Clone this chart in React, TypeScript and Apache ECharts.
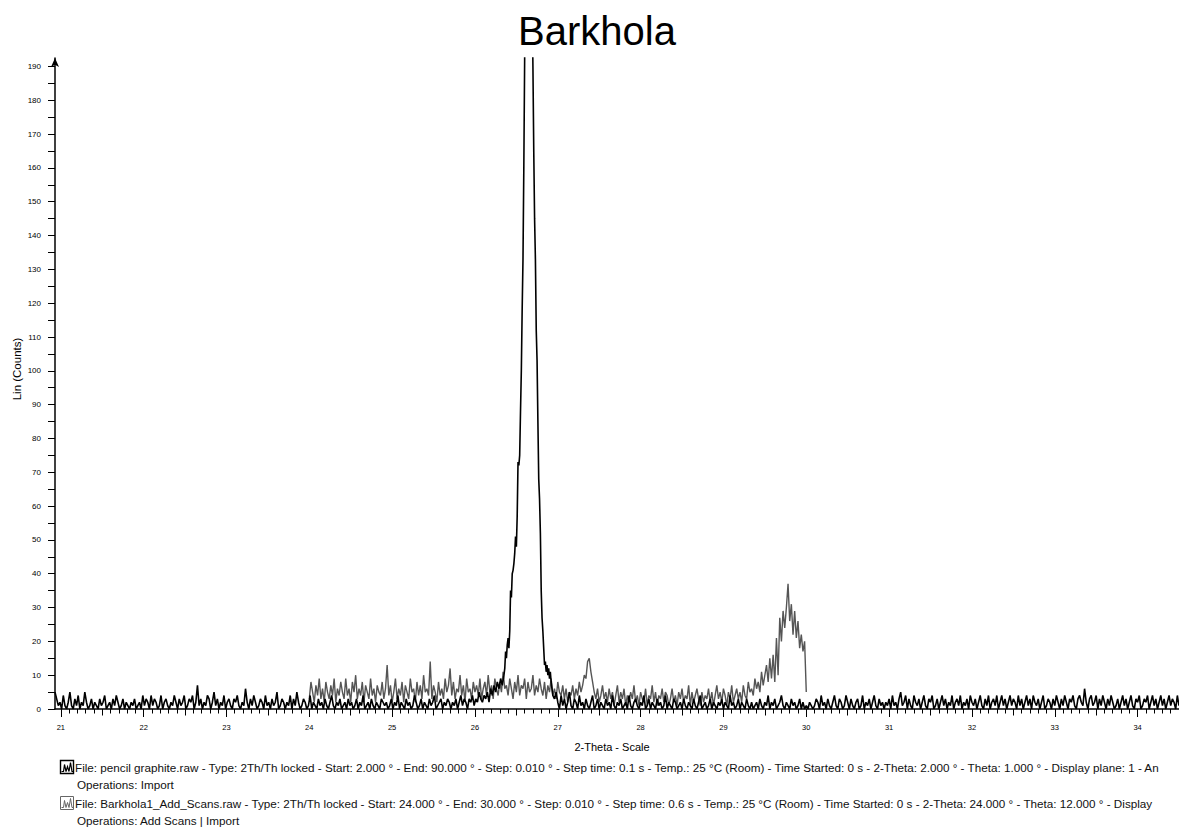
import React, { useEffect, useRef } from "react";
import * as echarts from "echarts";

const TITLE = "Barkhola";
const X_NAME = "2-Theta - Scale";
const Y_NAME = "Lin (Counts)";
const X_MIN = 20.93;
const X_MAX = 34.5;
const Y_MIN = 0;
const Y_MAX = 192.5;

const xLabelValues = [21, 22, 23, 24, 25, 26, 27, 28, 29, 30, 31, 32, 33, 34];
const xHalfTickValues = [21.5, 22.5, 23.5, 24.5, 25.5, 26.5, 27.5, 28.5, 29.5, 30.5, 31.5, 32.5, 33.5, 34.5];
const yLabelValues = [0, 10, 20, 30, 40, 50, 60, 70, 80, 90, 100, 110, 120, 130, 140, 150, 160, 170, 180, 190];
const yTickValues = [0, 5, 10, 15, 20, 25, 30, 35, 40, 45, 50, 55, 60, 65, 70, 75, 80, 85, 90, 95, 100, 105, 110, 115, 120, 125, 130, 135, 140, 145, 150, 155, 160, 165, 170, 175, 180, 185, 190];

// pencil graphite.raw
const graphiteLowStart = 20.93;
const graphiteLowStep = 0.02;
const graphiteLow = [
  5, 3, 1, 2, 0, 4, 1, 0, 2, 5, 1, 0, 3, 1, 4, 0, 2, 1, 5, 2,
  0, 1, 3, 0, 2, 1, 0, 3, 1, 2, 4, 0, 1, 2, 0, 3, 1, 4, 2, 0,
  1, 3, 0, 2, 1, 0, 2, 1, 3, 0, 1, 2, 0, 4, 1, 3, 2, 0, 4, 1,
  3, 2, 0, 1, 4, 0, 2, 3, 1, 0, 2, 1, 4, 2, 0, 3, 1, 2, 4, 0,
  1, 3, 2, 4, 0, 2, 7, 1, 3, 0, 2, 1, 4, 3, 0, 2, 5, 1, 3, 0,
  2, 1, 4, 0, 2, 3, 1, 0, 3, 2, 4, 1, 0, 2, 1, 6, 2, 0, 3, 1,
  4, 2, 0, 1, 3, 2, 0, 4, 1, 2, 0, 3, 1, 2, 5, 0, 1, 3, 2, 0,
  2, 1, 4, 0, 3, 1, 5, 2, 0, 1, 3, 2, 0, 1, 4, 0, 2, 1, 0, 3,
  1, 2, 0, 3, 1, 0, 2, 4, 1, 0, 2, 1, 3, 0, 1, 2, 0, 3, 1, 2,
  0, 1, 3, 0, 2, 1, 4, 0, 1, 2, 0, 3, 1, 0, 2, 1, 0, 3, 2, 1,
  2, 0, 1, 3, 0, 2, 1, 4, 0, 2, 1, 0, 3, 1, 2, 0, 1, 4, 2, 0,
  1, 3, 0, 2, 1, 0, 3, 1, 2, 4, 0, 1, 2, 3, 0, 2, 1, 3, 2, 0,
  2, 1, 3, 0, 2, 4, 1, 3, 2, 0, 3, 2, 4, 1, 3, 2, 5, 3, 2, 4,
  3, 5, 2, 6, 4, 7, 5, 8, 6, 9, 7, 10,
];
const graphitePeakStart = 26.36;
const graphitePeakStep = 0.01;
const graphitePeak = [
  12, 17, 15, 19, 21, 18, 23, 35, 33, 40, 41, 43, 46, 51, 48, 57, 73, 72, 75, 88,
  100, 118, 133, 160, 192, 240, 300, 350, 380, 370, 330, 280, 240, 210, 190, 165, 145, 133, 112, 103,
  85, 68, 62, 52, 35, 27, 23, 18, 13, 14, 11, 13, 10, 12, 9, 11, 8, 6, 4,
];
const graphiteHighStart = 26.96;
const graphiteHighStep = 0.02;
const graphiteHigh = [
  3, 5, 2, 0, 4, 1, 3, 0, 2, 5, 1, 0, 3, 2, 0, 4, 1, 2, 0, 3,
  1, 0, 2, 4, 0, 1, 3, 0, 2, 1, 0, 3, 1, 2, 0, 4, 1, 0, 2, 1,
  3, 0, 1, 2, 0, 4, 1, 0, 2, 3, 1, 0, 2, 1, 4, 0, 1, 3, 0, 2,
  1, 0, 3, 1, 2, 0, 1, 4, 0, 2, 1, 0, 3, 2, 0, 1, 2, 0, 3, 1,
  0, 2, 1, 0, 3, 1, 0, 2, 4, 0, 1, 2, 0, 1, 3, 0, 2, 1, 0, 2,
  1, 3, 0, 2, 1, 0, 4, 1, 2, 0, 1, 3, 0, 2, 1, 0, 3, 1, 0, 2,
  0, 1, 2, 0, 3, 1, 0, 2, 1, 4, 0, 2, 1, 3, 0, 1, 2, 4, 1, 0,
  2, 1, 0, 3, 1, 2, 0, 1, 3, 0, 2, 0, 1, 0, 2, 1, 0, 1, 3, 2,
  0, 4, 1, 2, 0, 3, 1, 0, 2, 4, 1, 0, 3, 2, 0, 1, 4, 2, 0, 3,
  1, 0, 2, 3, 0, 1, 4, 0, 2, 1, 3, 0, 2, 4, 1, 0, 3, 1, 2, 0,
  2, 1, 3, 0, 4, 1, 2, 0, 3, 5, 1, 2, 4, 0, 3, 1, 0, 4, 2, 1,
  3, 0, 2, 4, 1, 0, 3, 2, 4, 0, 1, 3, 0, 2, 4, 1, 3, 0, 2, 1,
  4, 0, 2, 3, 1, 4, 0, 2, 1, 3, 0, 4, 2, 1, 3, 0, 2, 4, 1, 0,
  3, 1, 4, 0, 2, 3, 1, 4, 0, 2, 4, 1, 3, 0, 2, 4, 1, 3, 2, 0,
  4, 1, 3, 0, 2, 4, 1, 3, 0, 4, 2, 1, 3, 0, 2, 4, 0, 1, 3, 2,
  0, 3, 1, 4, 2, 0, 3, 1, 4, 2, 0, 3, 2, 4, 1, 0, 3, 4, 2, 1,
  6, 2, 0, 3, 4, 1, 2, 4, 0, 3, 1, 4, 2, 0, 3, 1, 4, 2, 0, 1,
  3, 0, 2, 4, 1, 3, 0, 2, 4, 1, 0, 3, 2, 4, 0, 1, 3, 2, 4, 0,
  2, 4, 1, 3, 0, 2, 4, 1, 3, 0, 2, 4, 1, 3, 2, 0, 4, 1, 3, 2,
];

// Barkhola1_Add_Scans.raw
const barkholaStart = 24.0;
const barkholaStep = 0.02;
const barkhola = [
  3, 8, 5, 2, 7, 4, 9, 3, 6, 2, 8, 5, 3, 7, 4, 9, 2, 6, 4, 8,
  5, 3, 9, 4, 6, 2, 8, 5, 10, 3, 6, 4, 8, 2, 7, 5, 3, 9, 4, 6,
  2, 7, 5, 4, 8, 3, 6, 13, 4, 7, 2, 5, 9, 3, 6, 4, 8, 2, 7, 5,
  3, 9, 5, 6, 2, 8, 4, 7, 3, 10, 5, 6, 4, 14, 3, 7, 5, 2, 8, 4,
  6, 3, 9, 5, 7, 12, 4, 8, 3, 6, 5, 10, 4, 7, 2, 9, 5, 6, 3, 8,
  5, 7, 4, 9, 3, 6, 8, 4, 10, 5, 7, 3, 9, 6, 4, 8, 5, 11, 6, 7,
  4, 9, 6, 3, 8, 5, 10, 4, 7, 6, 9, 3, 8, 5, 6, 10, 4, 7, 5, 9,
  6, 4, 8, 3, 7, 5, 9, 4, 6, 3, 8, 5, 4, 7, 3, 6, 2, 5, 4, 7,
  3, 6, 4, 8, 5, 7, 10, 9, 14, 15, 11, 8, 5, 3, 6, 2, 4, 7, 3, 5,
  2, 6, 3, 5, 1, 4, 7, 2, 5, 3, 6, 1, 4, 2, 5, 3, 7, 2, 4, 1,
  5, 3, 2, 6, 1, 4, 3, 7, 2, 5, 1, 4, 3, 6, 2, 5, 4, 1, 3, 6,
  2, 4, 1, 5, 3, 6, 2, 4, 3, 7, 1, 5, 2, 4, 6, 3, 1, 5, 2, 4,
  3, 6, 2, 5, 1, 4, 7, 3, 5, 2, 6, 4, 1, 5, 3, 7, 2, 4, 6, 3,
  5, 2, 7, 4, 3, 8, 5, 6, 4, 9, 6, 8, 5, 11, 7, 10, 13, 8, 15, 9,
  16, 8, 21, 10, 27, 20, 29, 24, 30, 37, 26, 31, 22, 29, 21, 26, 18, 22, 17, 20,
  5,
];

const legendLines = [
  "File: pencil graphite.raw - Type: 2Th/Th locked - Start: 2.000 ° - End: 90.000 ° - Step: 0.010 ° - Step time: 0.1 s - Temp.: 25 °C (Room) - Time Started: 0 s - 2-Theta: 2.000 ° - Theta: 1.000 ° - Display plane: 1 - An",
  "Operations: Import",
  "File: Barkhola1_Add_Scans.raw - Type: 2Th/Th locked - Start: 24.000 ° - End: 30.000 ° - Step: 0.010 ° - Step time: 0.6 s - Temp.: 25 °C (Room) - Time Started: 0 s - 2-Theta: 24.000 ° - Theta: 12.000 ° - Display",
  "Operations: Add Scans | Import",
];

const toPairs = (start: number, step: number, values: number[]) =>
  values.map((v, i) => [Number((start + i * step).toFixed(2)), v]);

const FONT = "'Liberation Sans', Arial, sans-serif";
const LEGEND_FONT_SIZE = 11.7;

export default function App() {
  const ref = useRef<HTMLDivElement>(null);
  useEffect(() => {
    if (!ref.current) return;
    const chart = echarts.init(ref.current, undefined, { renderer: "svg" });

    const tenthTicks: number[] = [];
    for (let i = 0; i <= 135; i++) tenthTicks.push(Number((21 + i * 0.1).toFixed(1)));

    const graphiteData = [
      ...toPairs(graphiteLowStart, graphiteLowStep, graphiteLow),
      ...toPairs(graphitePeakStart, graphitePeakStep, graphitePeak),
      ...toPairs(graphiteHighStart, graphiteHighStep, graphiteHigh),
    ];
    const barkholaData = toPairs(barkholaStart, barkholaStep, barkhola);

    const baseX = {
      type: "value" as const,
      min: X_MIN,
      max: X_MAX,
      position: "bottom" as const,
      splitLine: { show: false },
    };

    const iconPts = (x0: number, y0: number) => [
      [x0 + 1, y0 + 11], [x0 + 3, y0 + 11], [x0 + 4, y0 + 4], [x0 + 5.5, y0 + 11],
      [x0 + 7, y0 + 6], [x0 + 8.5, y0 + 11], [x0 + 10, y0 + 2], [x0 + 11.5, y0 + 11], [x0 + 13, y0 + 11],
    ];

    const legendText = (x: number, y: number, text: string) => ({
      type: "text",
      x,
      y,
      style: { text, fontFamily: FONT, fontSize: LEGEND_FONT_SIZE, fill: "#111", textVerticalAlign: "middle" },
    });

    chart.setOption({
      animation: false,
      backgroundColor: "#ffffff",
      grid: { left: 55, right: 0, top: 58, bottom: 119, containLabel: false },
      xAxis: [
        {
          ...baseX,
          axisLine: { show: true, lineStyle: { color: "#000", width: 1.5 } },
          axisTick: { show: true, length: 8, customValues: xLabelValues, lineStyle: { color: "#000", width: 1 } },
          axisLabel: { show: true, customValues: xLabelValues, fontFamily: FONT, fontSize: 7.5, color: "#000", margin: 14 },
        },
        {
          ...baseX,
          axisLine: { show: false },
          axisTick: { show: true, length: 6.5, customValues: xHalfTickValues, lineStyle: { color: "#000", width: 1 } },
          axisLabel: { show: false },
        },
        {
          ...baseX,
          axisLine: { show: false },
          axisTick: { show: true, length: 4.5, customValues: tenthTicks, lineStyle: { color: "#000", width: 1 } },
          axisLabel: { show: false },
        },
      ],
      yAxis: {
        type: "value",
        min: Y_MIN,
        max: Y_MAX,
        splitLine: { show: false },
        axisLine: { show: true, symbol: ["none", "arrow"], symbolSize: [6, 9], lineStyle: { color: "#000", width: 1.5 } },
        axisTick: { show: true, length: 7, customValues: yTickValues, lineStyle: { color: "#000", width: 1 } },
        axisLabel: { show: true, customValues: yLabelValues, fontFamily: FONT, fontSize: 8, color: "#000", margin: 14 },
      },
      graphic: [
        {
          type: "text",
          x: 597,
          y: 31,
          style: { text: TITLE, fontFamily: FONT, fontSize: 40, fill: "#000", textAlign: "center", textVerticalAlign: "middle" },
        },
        {
          type: "text",
          x: 612,
          y: 747,
          style: { text: X_NAME, fontFamily: FONT, fontSize: 11, fill: "#000", textAlign: "center", textVerticalAlign: "middle" },
        },
        {
          type: "text",
          x: 17,
          y: 369,
          rotation: Math.PI / 2,
          style: { text: Y_NAME, fontFamily: FONT, fontSize: 11.5, fill: "#000", textAlign: "center", textVerticalAlign: "middle" },
        },
        { type: "rect", shape: { x: 60.5, y: 760.5, width: 13, height: 13 }, style: { fill: "none", stroke: "#000", lineWidth: 1.4 } },
        { type: "polyline", shape: { points: iconPts(60.5, 760.5) }, style: { fill: "none", stroke: "#000", lineWidth: 1.2 } },
        { type: "rect", shape: { x: 60.5, y: 796.5, width: 13, height: 13 }, style: { fill: "none", stroke: "#666", lineWidth: 1 } },
        { type: "polyline", shape: { points: iconPts(60.5, 796.5) }, style: { fill: "none", stroke: "#666", lineWidth: 1 } },
        legendText(75, 767, legendLines[0]),
        legendText(77, 784, legendLines[1]),
        legendText(75, 803, legendLines[2]),
        legendText(77, 820, legendLines[3]),
      ],
      series: [
        {
          name: "Barkhola1_Add_Scans.raw",
          type: "line",
          xAxisIndex: 0,
          data: barkholaData,
          showSymbol: false,
          symbol: "none",
          clip: true,
          z: 2,
          lineStyle: { color: "#555555", width: 1.4 },
        },
        {
          name: "pencil graphite.raw",
          type: "line",
          xAxisIndex: 0,
          data: graphiteData,
          showSymbol: false,
          symbol: "none",
          clip: true,
          z: 3,
          lineStyle: { color: "#000000", width: 1.6 },
        },
      ],
    });
    return () => chart.dispose();
  }, []);
  return <div ref={ref} style={{ position: "fixed", left: 0, top: 0, width: 1179, height: 828, background: "#fff" }} />;
}
